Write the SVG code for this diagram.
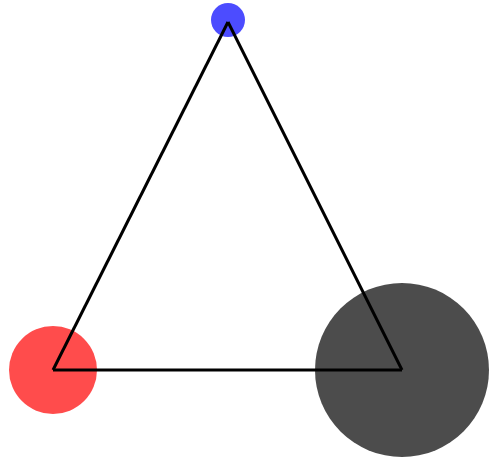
<svg xmlns="http://www.w3.org/2000/svg" width="490" height="462" viewBox="0 0 490 462">
<style>
.node{fill-opacity:0.7}
.edge{fill:none;stroke:#000;stroke-width:3;stroke-linejoin:miter}
</style>
<rect width="490" height="462" fill="#fff"/>
<g id="node-top"><circle class="node" cx="228" cy="20" r="17" fill="#0000ff"/></g>
<g id="node-left"><circle class="node" cx="53" cy="370" r="44" fill="#ff0000"/></g>
<g id="node-right"><circle class="node" cx="402" cy="370" r="87" fill="#000000"/></g>
<g id="connectors">
<line class="edge" x1="228" y1="22" x2="53" y2="370"/>
<line class="edge" x1="53" y1="370" x2="402" y2="370"/>
<line class="edge" x1="402" y1="370" x2="228" y2="22"/>
</g>
</svg>
